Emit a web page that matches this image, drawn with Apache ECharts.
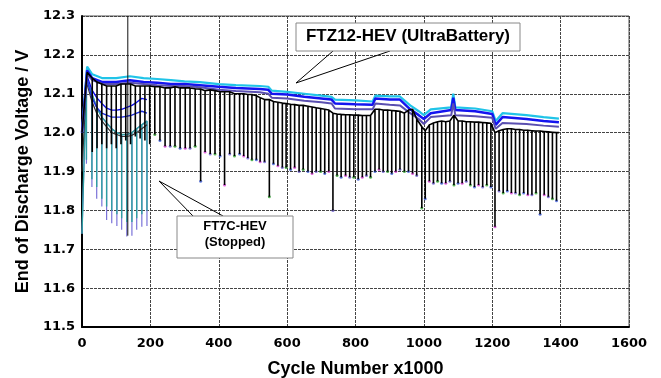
<!DOCTYPE html>
<html>
<head>
<meta charset="utf-8">
<script src="https://cdn.jsdelivr.net/npm/echarts@6/dist/echarts.min.js"></script>
<style>
html, body { margin: 0; padding: 0; background: #fff; }
#main { width: 661px; height: 378px; }
</style>
</head>
<body>
<div id="main"></div>
<script>
// FT7C-HEV cells (stopped at ~190k cycles)
let ft7Cycles = [0, 13, 29, 43, 58, 72, 87, 102, 116, 131, 146, 160, 175, 190];
let ft7Base = [11.74, 12.14, 12.10, 12.065, 12.04, 12.025, 12.01, 12.0, 11.995, 11.995, 12.0, 12.01, 12.02, 12.03];
let ft7Dip = [null, 11.93, 11.88, 11.86, 11.83, 11.81, 11.80, 11.79, 11.78, 11.77, 11.77, 11.78, 11.79, 11.80];
let ft7DeepDip = [null, 11.92, 11.86, 11.83, 11.81, 11.775, 11.767, 11.76, 11.75, 11.733, 11.735, 11.75, 11.758, 11.76];
let ft7Dark = [11.9, 12.13, 12.08, 12.05, 12.03, 12.015, 12.0, 11.995, 11.99, 11.99, 11.993, 12.0, 12.01, 12.02];
let ft7Blue1 = [12.0, 12.15, 12.11, 12.09, 12.075, 12.063, 12.058, 12.058, 12.06, 12.065, 12.07, 12.078, 12.088, 12.085];
let ft7Blue2 = [12.0, 12.14, 12.09, 12.065, 12.05, 12.045, 12.04, 12.04, 12.04, 12.042, 12.045, 12.05, 12.055, 12.05];

// odd spike near 134k
let spikeCycles = [134];
let spikeHigh = [12.3];
let spikeLow = [11.735];

// FTZ12-HEV (UltraBattery): black cell with periodic check-up dips
let ftzCycles = [0, 15, 30, 44, 58, 72, 86, 100, 114, 128, 142, 156, 170, 184, 198, 213, 228, 243, 258, 272, 287, 302, 316, 331, 347,
  360, 375, 389, 404, 417, 432, 446, 461, 473, 485, 497, 510, 521, 534, 548,
  560, 573, 586, 597, 610, 622, 635, 647, 661, 673, 685, 698, 710, 722, 734,
  746, 758, 771, 783, 795, 808, 820, 832, 844,
  857, 869, 881, 894, 906, 918, 930, 943, 955, 967, 979, 994, 1004, 1016, 1028, 1040, 1052, 1064, 1076, 1088,
  1100, 1112, 1124, 1136, 1148, 1160, 1172, 1184, 1196, 1208,
  1220, 1232, 1244, 1256, 1268, 1280, 1292, 1304, 1316, 1328, 1340, 1352, 1364, 1376, 1388, 1395];
let ftzBlack = [12.00, 12.155, 12.14, 12.13, 12.125, 12.12, 12.12, 12.12, 12.125, 12.125, 12.125, 12.12, 12.12, 12.12, 12.12, 12.118, 12.118, 12.115, 12.115, 12.118, 12.115, 12.115, 12.115, 12.113, 12.112,
  12.108, 12.11, 12.108, 12.105, 12.105, 12.105, 12.10, 12.10, 12.10, 12.098, 12.098, 12.095, 12.09, 12.085, 12.085,
  12.08, 12.078, 12.076, 12.075, 12.073, 12.072, 12.07, 12.07, 12.068, 12.066, 12.064, 12.062, 12.06, 12.058, 12.05,
  12.048, 12.047, 12.046, 12.046, 12.045, 12.045, 12.044, 12.044, 12.044,
  12.06, 12.06, 12.058, 12.058, 12.057, 12.056, 12.055, 12.05, 12.058, 12.06, 12.035, 12.015, 12.005, 12.02, 12.025, 12.028, 12.03, 12.028, 12.03, 12.045,
  12.03, 12.03, 12.028, 12.028, 12.027, 12.027, 12.026, 12.025, 12.024, 12.00,
  12.005, 12.008, 12.01, 12.01, 12.008, 12.008, 12.006, 12.006, 12.005, 12.004, 12.004, 12.003, 12.002, 12.001, 12.0, 12.0];
let ftzDip = [null, null, 11.95, 11.96, 11.97, 11.96, 11.97, 11.96, 11.97, 11.98, 11.97, 11.99, 11.985, 11.98, 11.97, 11.995, 11.98, 11.965, 11.965, 11.965, 11.96, 11.96, 11.96, 11.965, 11.875,
  11.95, 11.945, 11.945, 11.94, 11.865, 11.945, 11.94, 11.945, 11.94, 11.935, 11.93, 11.93, 11.925, 11.925, 11.835,
  11.92, 11.915, 11.91, 11.91, 11.905, 11.91, 11.90, 11.905, 11.90, 11.895, 11.90, 11.90, 11.895, 11.90, 11.80,
  11.89, 11.885, 11.89, 11.885, 11.885, 11.88, 11.885, 11.89, 11.885,
  11.90, 11.905, 11.90, 11.90, 11.895, 11.90, 11.905, 11.90, 11.90, 11.895, 11.89, 11.806, 11.83, 11.875, 11.87, 11.875, 11.87, 11.87, 11.875, 11.865,
  11.87, 11.87, 11.875, 11.865, 11.86, 11.865, 11.86, 11.865, 11.86, 11.758,
  11.85, 11.845, 11.85, 11.845, 11.845, 11.84, 11.845, 11.84, 11.84, 11.845, 11.79, 11.84, 11.835, 11.83, 11.825, null];

// FTZ12-HEV other cells (upper band)
let bandCycles = [0, 15, 30, 60, 100, 140, 180, 220, 260, 300, 345, 350, 400, 450, 520, 545, 555, 600, 650, 700, 730, 740, 800, 850, 858, 900, 930, 960, 985, 1000, 1020, 1080, 1086, 1092, 1150, 1200, 1210, 1230, 1300, 1350, 1395];
let ftzCyan = [12.0, 12.17, 12.15, 12.14, 12.14, 12.145, 12.14, 12.138, 12.135, 12.132, 12.13, 12.128, 12.125, 12.122, 12.12, 12.118, 12.108, 12.105, 12.1, 12.095, 12.092, 12.085, 12.083, 12.08, 12.095, 12.093, 12.093, 12.07, 12.055, 12.045, 12.06, 12.065, 12.1, 12.065, 12.062, 12.055, 12.03, 12.05, 12.045, 12.04, 12.036];
let ftzBlue = [12.0, 12.16, 12.14, 12.13, 12.13, 12.135, 12.13, 12.128, 12.125, 12.125, 12.122, 12.12, 12.118, 12.115, 12.112, 12.11, 12.10, 12.098, 12.092, 12.088, 12.085, 12.075, 12.073, 12.072, 12.088, 12.085, 12.085, 12.06, 12.045, 12.035, 12.05, 12.058, 12.09, 12.058, 12.055, 12.048, 12.02, 12.04, 12.035, 12.03, 12.027];
let ftzPurple = [12.0, 12.15, 12.135, 12.125, 12.125, 12.128, 12.125, 12.122, 12.12, 12.12, 12.117, 12.112, 12.11, 12.107, 12.104, 12.1, 12.09, 12.088, 12.082, 12.078, 12.075, 12.062, 12.06, 12.06, 12.075, 12.072, 12.07, 12.05, 12.035, 12.022, 12.04, 12.045, 12.075, 12.045, 12.042, 12.038, 12.01, 12.025, 12.022, 12.018, 12.015];

let xTicks = [0, 200, 400, 600, 800, 1000, 1200, 1400, 1600];
let yTicks = [11.5, 11.6, 11.7, 11.8, 11.9, 12.0, 12.1, 12.2, 12.3];

function spikeLine(cycles, base, dips) {
    let out = [];
    for (let i = 0; i < cycles.length; i++) {
        out.push([cycles[i], base[i]]);
        if (dips[i] != null) {
            out.push([cycles[i], dips[i]]);
            out.push([cycles[i], base[i]]);
        }
    }
    return out;
}

function pairs(xs, ys) {
    return xs.map(function (x, i) { return [x, ys[i]]; });
}

let tipColors = ['#2ca02c', '#3b5bdb', '#d63cd6', '#6a5acd'];
let tips = [];
ftzCycles.forEach(function (c, i) {
    if (ftzDip[i] != null && c > 200) tips.push([c, ftzDip[i]]);
});

function line(name, data, color, width) {
    return {
        name: name, type: 'line', data: data, showSymbol: false,
        lineStyle: { color: color, width: width }, itemStyle: { color: color },
        animation: false, silent: true
    };
}

let chart = echarts.init(document.getElementById('main'));

let tickFont = { fontFamily: 'DejaVu Sans', fontWeight: 'bold', fontSize: 13, color: '#000' };

let option = {
    backgroundColor: '#fff',
    grid: {
        left: 82, right: 32, top: 16, bottom: 51, containLabel: false, outerBoundsMode: 'none',
        show: true, borderColor: '#555', borderWidth: 1
    },
    xAxis: {
        type: 'value', min: 0, max: 1600, interval: 200,
        name: 'Cycle Number x1000', nameLocation: 'middle', nameGap: 33,
        nameTextStyle: { fontFamily: 'Liberation Sans', fontWeight: 'bold', fontSize: 18, color: '#000' },
        axisLine: { lineStyle: { color: '#000', width: 2 } },
        axisTick: { show: false },
        axisLabel: Object.assign({ margin: 10, formatter: function (v) { return String(v); } }, tickFont),
        splitLine: { show: true, lineStyle: { color: '#444', width: 1, type: [3, 1] } }
    },
    yAxis: {
        type: 'value', min: 11.5, max: 12.3, interval: 0.1,
        name: 'End of Discharge Voltage / V', nameLocation: 'middle', nameGap: 48,
        nameTextStyle: { fontFamily: 'Liberation Sans', fontWeight: 'bold', fontSize: 18, color: '#000' },
        axisLine: { show: true, lineStyle: { color: '#000', width: 2 } },
        axisTick: { show: false },
        axisLabel: Object.assign({ margin: 7, formatter: function (v) { return v.toFixed(1); } }, tickFont),
        splitLine: { show: true, lineStyle: { color: '#444', width: 1, type: [3, 1] } }
    },
    series: [
        line('FT7C deep', spikeLine(ft7Cycles, ft7Base, ft7DeepDip), '#7a72d8', 1.2),
        line('FT7C teal', spikeLine(ft7Cycles, ft7Base, ft7Dip), '#2e9fa2', 1.4),
        line('FT7C dark', pairs(ft7Cycles, ft7Dark), '#333', 1.2),
        line('FT7C blue 2', pairs(ft7Cycles, ft7Blue2), '#1f2fe0', 1.4),
        line('FT7C blue 1', pairs(ft7Cycles, ft7Blue1), '#1010f0', 1.4),
        line('FTZ cyan', pairs(bandCycles, ftzCyan), '#20c4e8', 2.2),
        line('FTZ blue', pairs(bandCycles, ftzBlue), '#1414f0', 2.5),
        line('FTZ purple', pairs(bandCycles, ftzPurple), '#5a4fb0', 2),
        line('FTZ black', spikeLine(ftzCycles, ftzBlack, ftzDip), '#000', 1.6),
        {
            name: 'tips', type: 'scatter', data: tips, symbolSize: 3, animation: false, silent: true,
            itemStyle: { color: function (p) { return tipColors[p.dataIndex % tipColors.length]; } }
        },
        line('spike', [[spikeCycles[0], spikeHigh[0]], [spikeCycles[0], spikeLow[0]]], '#111', 1)
    ],
    graphic: [
        { type: 'polyline', shape: { points: [[333, 51], [296, 83], [390, 51]] }, style: { stroke: '#000', lineWidth: 1, fill: null }, z: 100 },
        { type: 'rect', shape: { x: 296, y: 23, width: 224, height: 28 }, style: { fill: '#fff', stroke: '#888', lineWidth: 1 }, z: 101 },
        { type: 'text', x: 408, y: 36, z: 102, style: { text: 'FTZ12-HEV (UltraBattery)', align: 'center', verticalAlign: 'middle', font: 'bold 17px "Liberation Sans"', fill: '#000' } },
        { type: 'polyline', shape: { points: [[193, 216], [159, 181], [223, 216]] }, style: { stroke: '#000', lineWidth: 1, fill: null }, z: 100 },
        { type: 'rect', shape: { x: 177, y: 216, width: 116, height: 42 }, style: { fill: '#fff', stroke: '#888', lineWidth: 1 }, z: 101 },
        { type: 'text', x: 235, y: 226, z: 102, style: { text: 'FT7C-HEV', align: 'center', verticalAlign: 'middle', font: 'bold 13px "Liberation Sans"', fill: '#000' } },
        { type: 'text', x: 235, y: 242, z: 102, style: { text: '(Stopped)', align: 'center', verticalAlign: 'middle', font: 'bold 13px "Liberation Sans"', fill: '#000' } }
    ]
};

chart.setOption(option);
</script>
</body>
</html>
